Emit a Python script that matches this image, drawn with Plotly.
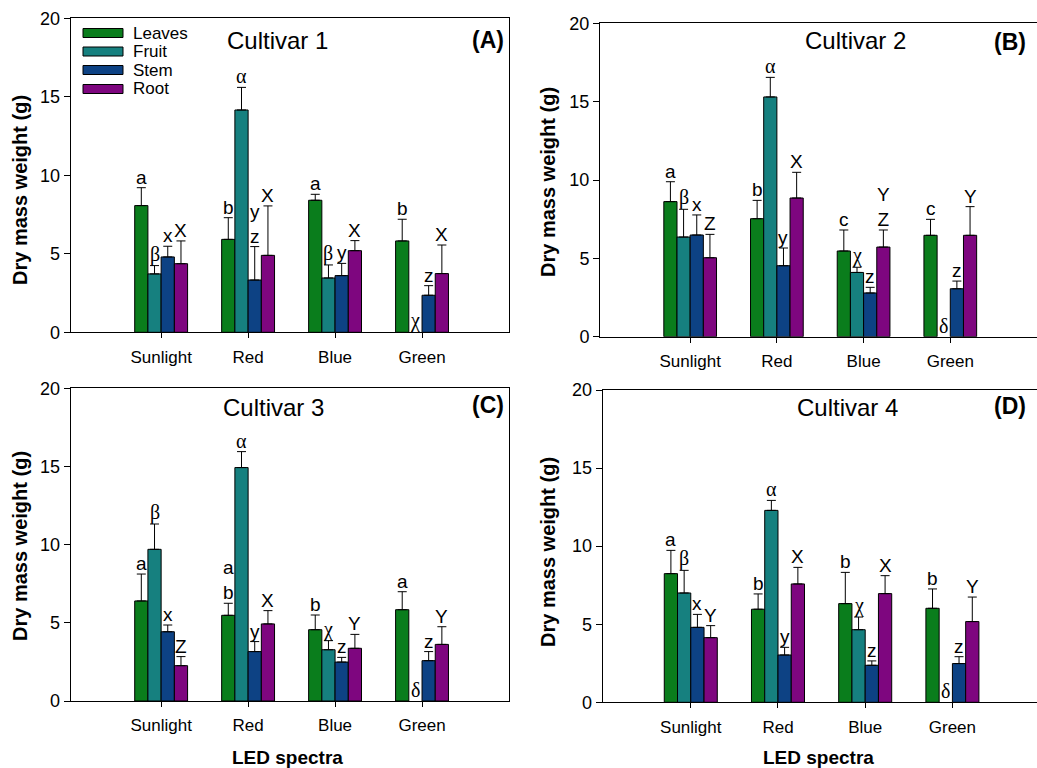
import plotly.graph_objects as go

W, H = 1037, 768

categories = ["Sunlight", "Red", "Blue", "Green"]
organs = ["Leaves", "Fruit", "Stem", "Root"]
colors = ["#0a7d1c", "#16807f", "#0d4284", "#7e067f"]

# Cultivar 1 (A)
c1_leaves = [8.07, 5.92, 8.41, 5.82]
c1_leaves_err = [1.14, 1.38, 0.38, 1.38]
c1_fruit = [3.72, 14.16, 3.46, None]
c1_fruit_err = [0.53, 1.44, 0.83, None]
c1_stem = [4.80, 3.33, 3.61, 2.36]
c1_stem_err = [0.68, 2.13, 0.78, 0.61]
c1_root = [4.37, 4.90, 5.20, 3.74]
c1_root_err = [1.45, 3.15, 0.64, 1.82]
c1_labels = [["a", "b", "a", "b"], ["β", "α", "β", "χ"],
             ["x", "y<br>z", "y", "z"], ["X", "X", "X", "X"]]

# Cultivar 2 (B)
c2_leaves = [8.62, 7.53, 5.47, 6.47]
c2_leaves_err = [1.27, 1.17, 1.34, 1.02]
c2_fruit = [6.36, 15.30, 4.10, None]
c2_fruit_err = [1.77, 1.25, 0.33, None]
c2_stem = [6.49, 4.53, 2.79, 3.06]
c2_stem_err = [1.28, 1.13, 0.36, 0.49]
c2_root = [5.04, 8.85, 5.72, 6.47]
c2_root_err = [1.49, 1.64, 1.09, 1.83]
c2_labels = [["a", "b", "c", "c"], ["β", "α", "χ", "δ"],
             ["x", "y", "z", "z"], ["Z", "X", "Y<br>Z", "Y"]]

# Cultivar 3 (C)
c3_leaves = [6.40, 5.48, 4.56, 5.84]
c3_leaves_err = [1.72, 0.77, 0.94, 1.15]
c3_fruit = [9.70, 14.93, 3.28, None]
c3_fruit_err = [1.62, 1.02, 0.58, None]
c3_stem = [4.43, 3.16, 2.49, 2.58]
c3_stem_err = [0.43, 0.64, 0.30, 0.58]
c3_root = [2.26, 4.93, 3.37, 3.62]
c3_root_err = [0.58, 0.85, 0.89, 1.13]
c3_labels = [["a", "a<br>b", "b", "a"], ["β", "α", "χ", "δ"],
             ["x", "y", "z", "z"], ["Z", "X", "Y", "Y"]]

# Cultivar 4 (D)
c4_leaves = [8.24, 5.96, 6.32, 6.02]
c4_leaves_err = [1.49, 0.98, 2.00, 1.24]
c4_fruit = [7.00, 12.29, 4.65, None]
c4_fruit_err = [1.45, 0.64, 0.81, None]
c4_stem = [4.80, 3.03, 2.37, 2.48]
c4_stem_err = [0.83, 0.49, 0.28, 0.44]
c4_root = [4.14, 7.58, 6.96, 5.17]
c4_root_err = [0.77, 1.06, 1.15, 1.57]
c4_labels = [["a", "b", "b", "b"], ["β", "α", "χ", "δ"],
             ["x", "y", "z", "z"], ["Y", "X", "X", "Y"]]

panels = [
    dict(vals=[c1_leaves, c1_fruit, c1_stem, c1_root],
         errs=[c1_leaves_err, c1_fruit_err, c1_stem_err, c1_root_err],
         labels=c1_labels, title="Cultivar 1", tag="(A)",
         px_x=(70.7, 509), px_y=(18.3, 332.3), xr=[-1.04, 4.0],
         title_px=(277, 40), tag_px=(506, 40), ytitle_px=(20, 190), xtitle=False),
    dict(vals=[c2_leaves, c2_fruit, c2_stem, c2_root],
         errs=[c2_leaves_err, c2_fruit_err, c2_stem_err, c2_root_err],
         labels=c2_labels, title="Cultivar 2", tag="(B)",
         px_x=(600, 1037), px_y=(23.3, 336.7), xr=[-1.04, 4.0],
         title_px=(855, 40), tag_px=(1028, 42), ytitle_px=(548, 182), xtitle=False),
    dict(vals=[c3_leaves, c3_fruit, c3_stem, c3_root],
         errs=[c3_leaves_err, c3_fruit_err, c3_stem_err, c3_root_err],
         labels=c3_labels, title="Cultivar 3", tag="(C)",
         px_x=(70.7, 509), px_y=(388.3, 701), xr=[-1.04, 4.0],
         title_px=(273, 407), tag_px=(506, 405), ytitle_px=(20, 546), xtitle=True,
         xtitle_px=(287, 757)),
    dict(vals=[c4_leaves, c4_fruit, c4_stem, c4_root],
         errs=[c4_leaves_err, c4_fruit_err, c4_stem_err, c4_root_err],
         labels=c4_labels, title="Cultivar 4", tag="(D)",
         px_x=(602.7, 1037), px_y=(390, 702.3), xr=[-1.01, 3.97],
         title_px=(847, 407), tag_px=(1028, 406), ytitle_px=(548, 552), xtitle=True,
         xtitle_px=(818, 757)),
]

FONT = "Liberation Sans, Arial, sans-serif"
SERIF = "Liberation Serif, Times New Roman, serif"
BW = 0.152  # bar width in category units

fig = go.Figure()
annotations = []
shapes = []


def px2paper(x, y):
    return x / W, 1 - y / H


for p_i, p in enumerate(panels):
    ax = "" if p_i == 0 else str(p_i + 1)
    xref, yref = "x" + ax, "y" + ax
    xs = list(range(len(categories)))
    for j, organ in enumerate(organs):
        vals = p["vals"][j]
        errs = p["errs"][j]
        fig.add_trace(go.Bar(
            x=xs, y=vals, width=BW, offset=(j - 2) * BW,
            name=organ, showlegend=False, hoverinfo="skip",
            marker=dict(color=colors[j], line=dict(color="black", width=1)),
            error_y=dict(type="data", symmetric=False, array=errs,
                         arrayminus=[0] * len(xs), color="black",
                         thickness=1, width=4.5),
            xaxis=xref, yaxis=yref,
        ))
        for i in xs:
            v = vals[i] if vals[i] is not None else 0
            e = errs[i] if errs[i] is not None else 0
            txt = p["labels"][j][i]
            greek = any(ch in "αβχδ" for ch in txt)
            annotations.append(dict(
                x=i + (j - 1.5) * BW, y=v + e, xref=xref, yref=yref,
                text=txt, showarrow=False, yanchor="bottom", xanchor="center",
                yshift=-2,
                font=dict(family=SERIF if greek else FONT, size=20 if greek else 19,
                          color="black"),
            ))
    x0, x1 = p["px_x"]
    ytop, ybot = p["px_y"]
    dom_x = [x0 / W, min(1.0, x1 / W)]
    dom_y = [1 - ybot / H, 1 - ytop / H]
    fig.update_layout(**{
        "xaxis" + ax: dict(domain=dom_x, range=p["xr"], tickmode="array",
                           tickvals=xs, ticktext=categories, showline=True,
                           linecolor="black", linewidth=1, mirror=True,
                           ticks="outside", ticklen=5, tickcolor="black",
                           showgrid=False, zeroline=False, anchor=yref,
                           automargin=False, fixedrange=True,
                           ticklabelstandoff=4,
                           tickfont=dict(family=FONT, size=17, color="black")),
        "yaxis" + ax: dict(domain=dom_y, range=[0, 20], tickvals=[0, 5, 10, 15, 20],
                           showline=True, linecolor="black", linewidth=1, mirror=True,
                           ticks="outside", ticklen=6, tickcolor="black",
                           showgrid=False, zeroline=False, anchor=xref,
                           automargin=False, fixedrange=True,
                           tickfont=dict(family=FONT, size=18, color="black")),
    })
    tx, ty = px2paper(*p["title_px"])
    annotations.append(dict(x=tx, y=ty, xref="paper", yref="paper", text=p["title"],
                            showarrow=False, xanchor="center", yanchor="middle",
                            font=dict(family=FONT, size=24, color="black")))
    gx, gy = px2paper(*p["tag_px"])
    annotations.append(dict(x=gx, y=gy, xref="paper", yref="paper",
                            text="<b>" + p["tag"] + "</b>",
                            showarrow=False, xanchor="right", yanchor="middle",
                            font=dict(family=FONT, size=23, color="black")))
    yx, yy = px2paper(*p["ytitle_px"])
    annotations.append(dict(x=yx, y=yy, xref="paper", yref="paper",
                            text="<b>Dry mass weight (g)</b>", textangle=-90,
                            showarrow=False, xanchor="center", yanchor="middle",
                            font=dict(family=FONT, size=20, color="black")))
    if p["xtitle"]:
        lx, ly = px2paper(*p["xtitle_px"])
        annotations.append(dict(x=lx, y=ly, xref="paper", yref="paper",
                                text="<b>LED spectra</b>",
                                showarrow=False, xanchor="center", yanchor="middle",
                                font=dict(family=FONT, size=19, color="black")))

# Legend (panel A), drawn as swatches + labels
legend_rows_px = [33, 51.5, 70, 89]
for j, organ in enumerate(organs):
    yc = legend_rows_px[j]
    sx0, sy0 = px2paper(83, yc - 4.5)
    sx1, sy1 = px2paper(123, yc + 4.5)
    shapes.append(dict(type="rect", xref="paper", yref="paper",
                       x0=sx0, x1=sx1, y0=sy1, y1=sy0,
                       fillcolor=colors[j], line=dict(color="black", width=1)))
    lx, ly = px2paper(131, yc)
    annotations.append(dict(x=lx, y=ly, xref="paper", yref="paper", text=organ,
                            showarrow=False, xanchor="left", yanchor="middle",
                            font=dict(family=FONT, size=17, color="black")))

fig.update_layout(
    template="none",
    width=W, height=H, margin=dict(l=0, r=0, t=0, b=0, pad=0, autoexpand=False),
    paper_bgcolor="white", plot_bgcolor="white",
    barmode="overlay", annotations=annotations, shapes=shapes,
    font=dict(family=FONT, color="black"),
)

fig.write_html(
    "out.html",
    config={"displayModeBar": False, "staticPlot": True},
    post_script="document.body.style.margin='0';document.body.style.overflow='hidden';",
)
